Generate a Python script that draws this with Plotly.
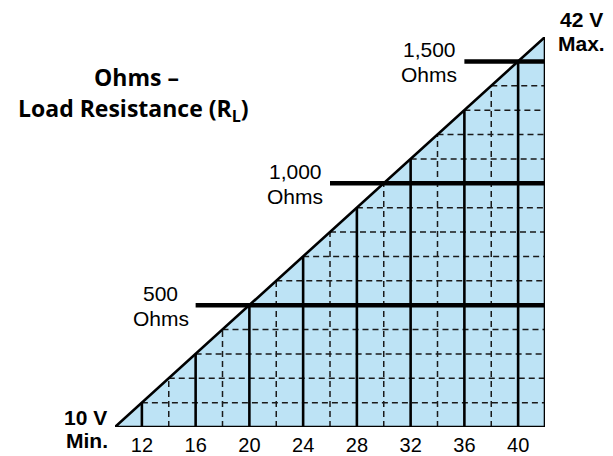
import numpy as np
import plotly.graph_objects as go

# ---- data ----
min_volts = 10
max_volts = 42
max_ohms = 1600
hyp_volts = [10, 42]
hyp_ohms = [0, 1600]
solid_volts = [12, 16, 20, 24, 28, 32, 36, 40]
dashed_volts = [14, 18, 22, 26, 30, 34, 38]
tick_labels = ["12", "16", "20", "24", "28", "32", "36", "40"]
dashed_ohms = [100, 200, 300, 400, 600, 700, 800, 900, 1100, 1200, 1300, 1400]
major_ohms = [500, 1000, 1500]
major_start_volts = [16, 26, 36]
major_values = ["500", "1,000", "1,500"]
major_unit = "Ohms"

BLUE = "#bde3f5"
ARIAL = "Liberation Sans, Arial"
fig = go.Figure()

# fill triangle
fig.add_trace(go.Scatter(x=[min_volts, max_volts, max_volts, min_volts],
                         y=[0, 0, max_ohms, 0], fill="toself", fillcolor=BLUE,
                         mode="none", hoverinfo="skip", showlegend=False))

def top_ohms(v):
    return float(np.interp(v, hyp_volts, hyp_ohms))

def left_volts(r):
    return float(np.interp(r, hyp_ohms, hyp_volts))

# dashed grid
dx, dy = [], []
for v in dashed_volts:
    dx += [v, v, None]; dy += [0, top_ohms(v), None]
for r in dashed_ohms:
    dx += [left_volts(r), max_volts, None]; dy += [r, r, None]
fig.add_trace(go.Scatter(x=dx, y=dy, mode="lines", cliponaxis=False,
                         line=dict(color="#1a1a1a", width=1.5, dash="6px,4px"),
                         hoverinfo="skip", showlegend=False))

# solid verticals
sx, sy = [], []
for v in solid_volts:
    sx += [v, v, None]; sy += [0, top_ohms(v), None]
fig.add_trace(go.Scatter(x=sx, y=sy, mode="lines", cliponaxis=False,
                         line=dict(color="black", width=2.6),
                         hoverinfo="skip", showlegend=False))

# major horizontals
mx, my = [], []
for r, v0 in zip(major_ohms, major_start_volts):
    mx += [v0, max_volts, None]; my += [r, r, None]
fig.add_trace(go.Scatter(x=mx, y=my, mode="lines", cliponaxis=False,
                         line=dict(color="black", width=4.5),
                         hoverinfo="skip", showlegend=False))

# outline
fig.add_trace(go.Scatter(x=[min_volts, max_volts, max_volts, min_volts],
                         y=[0, 0, max_ohms, 0], mode="lines", cliponaxis=False,
                         line=dict(color="black", width=2.6),
                         hoverinfo="skip", showlegend=False))

# major labels (two lines each)
for r, v0, val in zip(major_ohms, major_start_volts, major_values):
    fig.add_annotation(x=v0, y=r, text=val, showarrow=False, xanchor="center",
                       yanchor="middle", xshift=-35, yshift=12,
                       font=dict(family=ARIAL, size=21, color="black"))
    fig.add_annotation(x=v0, y=r, text=major_unit, showarrow=False, xanchor="center",
                       yanchor="middle", xshift=-35, yshift=-13,
                       font=dict(family=ARIAL, size=21, color="black"))

# title
fig.add_annotation(xref="paper", yref="paper", x=0.051, y=0.897,
                   xanchor="center", yanchor="middle", text="<b>Ohms –</b>",
                   showarrow=False, font=dict(family="Open Sans", size=23, color="black"))
fig.add_annotation(xref="paper", yref="paper", x=0.042, y=0.815,
                   xanchor="center", yanchor="middle",
                   text="<b>Load Resistance (R<sub>L</sub>)</b>",
                   showarrow=False, font=dict(family="Open Sans", size=23, color="black"))

# end labels
fig.add_annotation(x=max_volts, y=max_ohms, text="<b>42 V</b>", showarrow=False,
                   xanchor="center", yanchor="middle", xshift=36, yshift=18,
                   font=dict(family=ARIAL, size=21, color="black"))
fig.add_annotation(x=max_volts, y=max_ohms, text="<b>Max.</b>", showarrow=False,
                   xanchor="center", yanchor="middle", xshift=36, yshift=-6,
                   font=dict(family=ARIAL, size=21, color="black"))
fig.add_annotation(x=min_volts, y=0, text="<b>10 V</b>", showarrow=False,
                   xanchor="right", yanchor="middle", xshift=-6, yshift=10,
                   font=dict(family=ARIAL, size=21, color="black"))
fig.add_annotation(x=min_volts, y=0, text="<b>Min.</b>", showarrow=False,
                   xanchor="right", yanchor="middle", xshift=-5, yshift=-13,
                   font=dict(family=ARIAL, size=21, color="black"))

fig.update_xaxes(range=[min_volts, max_volts], tickvals=solid_volts, ticktext=tick_labels,
                 showgrid=False, zeroline=False, showline=False, ticks="", automargin=False,
                 ticklabelstandoff=4,
                 tickfont=dict(family=ARIAL, size=20, color="black"))
fig.update_yaxes(range=[0, max_ohms], showgrid=False, zeroline=False, showline=False,
                 showticklabels=False, ticks="", automargin=False)
# page body has an 8px margin, so the figure is 8px smaller and shifted accordingly
fig.update_layout(template="none", width=605, height=448,
                  margin=dict(l=107, r=68, t=29, b=29, autoexpand=False),
                  plot_bgcolor="white", paper_bgcolor="white")
fig.write_html("out.html")
